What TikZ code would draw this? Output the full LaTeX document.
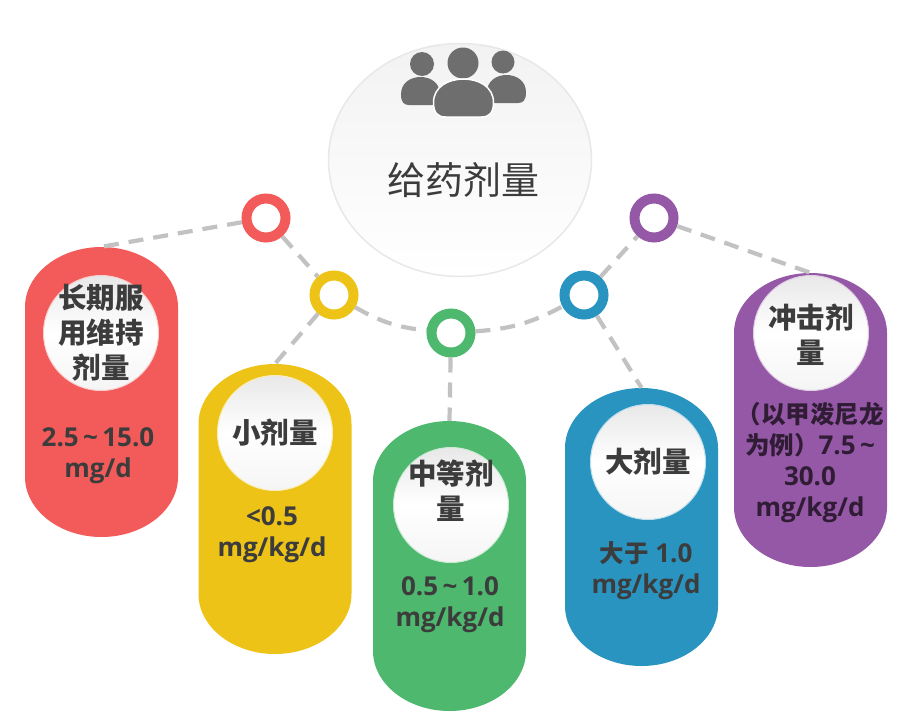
\documentclass[tikz,border=0pt]{standalone}
\usepackage{fontspec}
\usetikzlibrary{shapes.geometric}
\setmainfont{Open Sans}
\newfontfamily\cjk{Noto Sans CJK SC}
\definecolor{cred}{HTML}{F35B5B}
\definecolor{cyel}{HTML}{EEC317}
\definecolor{cgrn}{HTML}{4DB86E}
\definecolor{cblu}{HTML}{2A94C1}
\definecolor{cpur}{HTML}{9558A6}
\definecolor{dashc}{HTML}{C2C2C2}
\definecolor{ink}{HTML}{3C3C3C}
\definecolor{iconc}{HTML}{6E6E6E}
\newcommand{\cjkv}[1]{{\cjk\fontsize{24.5}{31}\selectfont #1}}
\tikzset{
  ringn/.style={circle,draw=#1,fill=white,line width=10pt,minimum size=39pt,inner sep=0pt},
  link/.style={dashc,line width=4.2pt,dash pattern=on 15pt off 10pt},
  badge/.style={circle,minimum size=115pt,inner sep=0pt,draw=#1!30!white,line width=1pt,
    top color=black!9,bottom color=black!4,middle color=white},
  title/.style={text=ink,font=\cjk\bfseries\fontsize{28.5}{35}\selectfont,align=center,inner sep=0pt},
  val/.style={text=#1,font=\bfseries\fontsize{26}{31}\selectfont,align=center,inner sep=0pt},
  capbox/.style={minimum width=153pt,minimum height=#1,inner sep=0pt},
  head/.style={circle,fill=iconc,inner sep=0pt,minimum size=#1},
}
% name, centre x, top y, bottom y, colour
\newcommand{\capsule}[5]{%
  \node[capbox={#4pt-#3pt}] (#1) at (#2,{(#3+#4)/2}) {};
  \fill[#5] (#2-76.5,#3+60) .. controls (#2-76.5,#3+27) and (#2-42,#3) .. (#2,#3)
     .. controls (#2+42,#3) and (#2+76.5,#3+27) .. (#2+76.5,#3+60)
     -- (#2+76.5,#4-60) .. controls (#2+76.5,#4-27) and (#2+42,#4) .. (#2,#4)
     .. controls (#2-42,#4) and (#2-76.5,#4-27) .. (#2-76.5,#4-60) -- cycle;
}
% centre x, top y, half width, height
\newcommand{\bodyshape}[4]{%
  (#1-#3,#2+#4*0.62) .. controls (#1-#3,#2+#4*0.2) and (#1-#3*0.5,#2) .. (#1,#2)
  .. controls (#1+#3*0.5,#2) and (#1+#3,#2+#4*0.2) .. (#1+#3,#2+#4*0.62)
  .. controls (#1+#3,#2+#4*0.9) and (#1+#3*0.85,#2+#4) .. (#1+#3*0.6,#2+#4)
  -- (#1-#3*0.6,#2+#4) .. controls (#1-#3*0.85,#2+#4) and (#1-#3,#2+#4*0.9) .. (#1-#3,#2+#4*0.62) -- cycle}
\begin{document}
\begin{tikzpicture}[x=1pt,y=-1pt]
\useasboundingbox (0,0) rectangle (911,728);
\fill[white] (0,0) rectangle (911,728);

% central disc
\node[ellipse,draw=black!9,line width=1.5pt,minimum width=263pt,minimum height=233pt,inner sep=0pt,
  top color=black!5,bottom color=white] (hub) at (460,160) {};
\node[head=24pt] (h1) at (422,64) {};
\node[head=23pt] (h3) at (503,62) {};
\fill[iconc] \bodyshape{420.5}{77}{19.5}{28};
\fill[iconc] \bodyshape{506.5}{75}{19.5}{28};
\node[head=31pt] (h2) at (463,63) {};
\path[fill=iconc,draw=white,line width=1.5pt] \bodyshape{463.5}{79}{30}{38};
\node[text=ink,font=\cjk\fontsize{38}{44}\selectfont,inner sep=0pt] (hubt) at (463.5,180) {给药剂量};

% capsules
\capsule{capA}{101.5}{247}{537}{cred}
\capsule{capB}{275}{364}{654}{cyel}
\capsule{capC}{449.5}{421}{711}{cgrn}
\capsule{capD}{641.5}{388}{666}{cblu}
\capsule{capE}{810.5}{273}{567}{cpur}

% rings
\node[ringn=cred] (rA) at (266,218) {};
\node[ringn=cyel] (rB) at (334,295) {};
\node[ringn=cgrn] (rC) at (451,333) {};
\node[ringn=cblu] (rD) at (584,295) {};
\node[ringn=cpur] (rE) at (654,218) {};

% connectors
\draw[link] (rA) -- (capA.north);
\draw[link] (rA) -- (rB);
\draw[link] (rB) -- (capB.north);
\draw[link] (rB) to[bend right=12] (rC);
\draw[link] (rC) -- (capC.north);
\draw[link] (rC) to[bend right=12] (rD);
\draw[link] (rD) -- (capD.north);
\draw[link] (rD) -- (rE);
\draw[link] (rE) -- (capE.north);

% badges
\node[badge=cred] (bA) at (101,333) {};
\node[badge=cyel] (bB) at (275,433) {};
\node[badge=cgrn] (bC) at (451,505) {};
\node[badge=cblu] (bD) at (648,462) {};
\node[badge=cpur] (bE) at (811,333) {};

% titles
\node[title] (tA) at (101,333) {长期服\\用维持\\剂量};
\node[title] (tB) at (275,433) {小剂量};
\node[title] (tC) at (451,491) {中等剂\\量};
\node[title] (tD) at (648,462) {大剂量};
\node[title] (tE) at (811,334.5) {冲击剂\\量};

% values
\node[val=ink] (vA) at (98,456) {2.5\,\textasciitilde\,15.0\\mg/d};
\node[val=ink] (vB) at (272,535) {<0.5\\mg/kg/d};
\node[val=ink] (vC) at (450,604.5) {0.5\,\textasciitilde\,1.0\\mg/kg/d};
\node[val=ink] (vD) at (646,570.5) {\cjkv{大于} 1.0\\mg/kg/d};
\node[val=black!68!cpur] (vE) at (810,463) {\cjkv{（以甲泼尼龙}\\\cjkv{为例）}7.5\,\textasciitilde\\30.0\\mg/kg/d};
\end{tikzpicture}
\end{document}
